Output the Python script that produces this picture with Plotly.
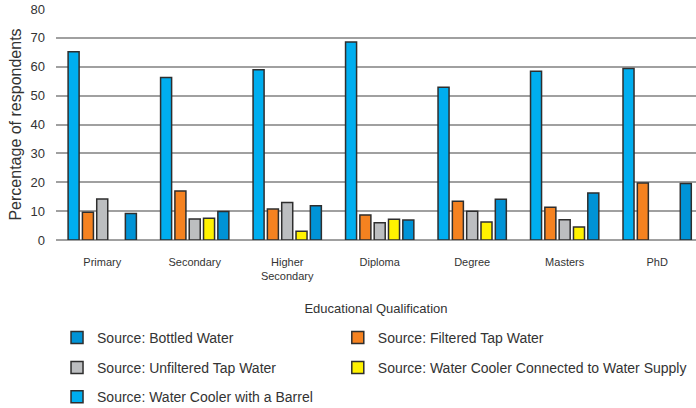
import plotly.graph_objects as go

categories = ["Primary", "Secondary", "Higher<br>Secondary", "Diploma", "Degree", "Masters", "PhD"]

barrel = [65.2, 56.3, 59.0, 68.6, 52.9, 58.4, 59.4]
filtered_tap = [9.6, 17.0, 10.7, 8.7, 13.4, 11.3, 19.7]
unfiltered_tap = [14.2, 7.3, 13.0, 6.0, 10.0, 7.0, None]
cooler_supply = [None, 7.5, 3.0, 7.2, 6.2, 4.5, None]
bottled = [9.2, 9.9, 11.9, 6.9, 14.1, 16.3, 19.6]

y_ticks = [0, 10, 20, 30, 40, 50, 60, 70, 80]

FONT = "Liberation Sans, Arial, sans-serif"
LINE = dict(color="#2e2e2e", width=1.5)

series = [
    ("Source: Water Cooler with a Barrel", barrel, "#00aeef", "legend5"),
    ("Source: Filtered Tap Water", filtered_tap, "#f58220", "legend2"),
    ("Source: Unfiltered Tap Water", unfiltered_tap, "#bcbec0", "legend3"),
    ("Source: Water Cooler Connected to Water Supply", cooler_supply, "#fff200", "legend4"),
    ("Source: Bottled Water", bottled, "#0093d6", "legend"),
]

fig = go.Figure()
for name, vals, color, leg in series:
    fig.add_trace(go.Bar(
        x=list(range(len(categories))), y=vals, name=name,
        marker=dict(color=color, line=LINE),
        legend=leg, showlegend=True,
    ))

legend_common = dict(
    orientation="v", xanchor="left", yanchor="middle",
    font=dict(family=FONT, size=14, color="#333333"),
    bgcolor="rgba(0,0,0,0)", borderwidth=0, visible=True,
)
col1, col2 = 0.0016, 0.4403
row1, row2, row3 = -0.424, -0.554, -0.680

fig.update_layout(
    width=696, height=408,
    showlegend=True,
    margin=dict(l=56, r=0, t=9, b=168, autoexpand=False),
    paper_bgcolor="white", plot_bgcolor="white",
    barmode="group", bargap=0.226, bargroupgap=0.23,
    font=dict(family=FONT, color="#333333"),
    legend=dict(x=col1, y=row1, **legend_common),
    legend2=dict(x=col2, y=row1, **legend_common),
    legend3=dict(x=col1, y=row2, **legend_common),
    legend4=dict(x=col2, y=row2, **legend_common),
    legend5=dict(x=col1, y=row3, **legend_common),
    xaxis=dict(
        tickmode="array", tickvals=list(range(len(categories))), ticktext=categories,
        range=[-0.5, 6.42], showgrid=False, showline=False, zeroline=False,
        tickfont=dict(family=FONT, size=11, color="#333333"), ticks="",
        ticklabelstandoff=14,
        title=dict(text="Educational Qualification", standoff=22,
                   font=dict(family=FONT, size=13, color="#333333")),
    ),
    yaxis=dict(
        range=[0, 80], tickvals=y_ticks, showgrid=True,
        gridcolor="#a0a0a0", gridwidth=1.5, zeroline=True, zerolinecolor="#a0a0a0",
        zerolinewidth=1.5, showline=False, ticks="", ticklabelstandoff=10,
        tickfont=dict(family=FONT, size=13, color="#333333"),
        title=dict(text="Percentage of respondents", standoff=4,
                   font=dict(family=FONT, size=16, color="#333333")),
    ),
)

fig.write_html("out.html", config={"displayModeBar": False},
               post_script="document.body.style.margin='0';")
